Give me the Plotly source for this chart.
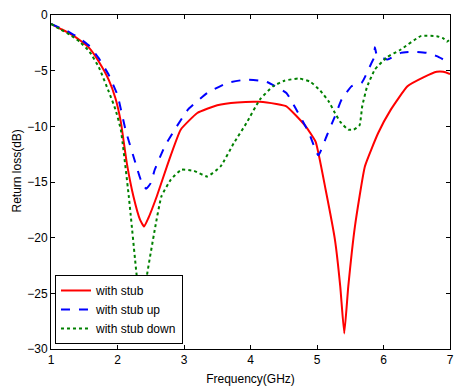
import plotly.graph_objects as go

freq_stub = [1.0, 1.13, 1.28, 1.43, 1.58, 1.72, 1.87, 1.97, 2.05, 2.14, 2.24, 2.34, 2.40, 2.46, 2.59,
             2.76, 2.95, 3.2, 3.5, 3.8, 4.14, 4.39, 4.54, 4.68, 4.83, 4.98, 5.13, 5.27, 5.35, 5.41,
             5.47, 5.57, 5.72, 5.92, 6.11, 6.36, 6.6, 6.8, 6.9, 7.0]
rl_stub = [-0.8, -1.2, -1.65, -2.25, -3.0, -4.2, -5.85, -7.5, -9.6, -13.3, -16.3, -18.4, -19.0, -18.3, -16.3,
           -13.3, -10.3, -8.8, -8.1, -7.85, -7.8, -8.0, -8.2, -9.0, -10.0, -11.4, -15.7, -20.2, -24.4, -28.6,
           -24.4, -19.0, -13.6, -10.6, -8.5, -6.4, -5.6, -5.1, -5.1, -5.3]

freq_up = [1.0, 1.13, 1.28, 1.43, 1.58, 1.72, 1.87, 2.0, 2.12, 2.27, 2.35, 2.43, 2.5, 2.56, 2.71,
           2.86, 3.06, 3.35, 3.65, 3.94, 4.24, 4.54, 4.68, 4.88, 5.02, 5.15, 5.27, 5.37, 5.52,
           5.67, 5.82, 5.86, 5.87, 5.9, 6.06, 6.26, 6.46, 6.65, 6.8, 7.0]
rl_up = [-0.8, -1.15, -1.55, -2.1, -2.8, -3.9, -5.4, -7.2, -10.3, -13.3, -14.8, -15.6, -15.1, -13.9, -11.8,
         -10.3, -8.5, -7.0, -6.1, -5.8, -6.0, -7.0, -8.4, -10.6, -12.6, -10.8, -9.1, -7.6, -6.4,
         -6.1, -4.3, -3.8, -2.9, -3.6, -4.0, -3.4, -3.3, -3.4, -3.7, -4.3]

freq_down = [1.0, 1.13, 1.28, 1.43, 1.58, 1.72, 1.87, 1.97, 2.05, 2.17, 2.29, 2.37, 2.44, 2.56, 2.66,
             2.8, 2.96, 3.15, 3.35, 3.55, 3.75, 3.94, 4.14, 4.34, 4.51, 4.73, 4.9, 5.05, 5.18, 5.27,
             5.35, 5.47, 5.55, 5.64, 5.68, 5.75, 5.87, 6.05, 6.26, 6.56, 6.8, 6.9, 6.95, 7.0]
rl_down = [-0.8, -1.25, -1.75, -2.4, -3.3, -4.7, -6.9, -8.5, -10.3, -16.3, -23.5, -27.5, -23.5, -19.3, -16.3,
           -14.8, -13.9, -14.0, -14.5, -13.6, -11.5, -9.7, -7.6, -6.4, -5.9, -5.7, -6.0, -6.8, -7.8, -8.8,
           -9.6, -10.3, -10.3, -9.9, -8.2, -6.5, -4.9, -3.8, -3.1, -1.9, -1.9, -2.1, -2.4, -2.2]

names = ["with stub", "with stub up", "with stub down"]

fig = go.Figure()
fig.add_trace(go.Scatter(x=freq_stub, y=rl_stub, mode="lines", name=names[0],
                         line=dict(color="#ff0000", width=2, shape="spline", smoothing=0.4)))
fig.add_trace(go.Scatter(x=freq_up, y=rl_up, mode="lines", name=names[1],
                         line=dict(color="#0000ff", width=2, dash="dash", shape="spline", smoothing=0.4)))
fig.add_trace(go.Scatter(x=freq_down, y=rl_down, mode="lines", name=names[2],
                         line=dict(color="#008000", width=2, dash="dot", shape="spline", smoothing=0.4)))

font = dict(family="Arial, Liberation Sans, sans-serif", size=12, color="#000000")
axis_common = dict(showgrid=False, zeroline=False, showline=True, linecolor="#000000", linewidth=1,
                   mirror="ticks", ticks="inside", ticklen=4, tickcolor="#000000",
                   tickfont=font, ticklabeloverflow="allow")

fig.update_layout(
    width=457, height=387,
    margin=dict(l=51, r=3, t=15, b=38),
    paper_bgcolor="#ffffff", plot_bgcolor="#ffffff",
    font=font,
    xaxis=dict(range=[1, 7], tickvals=[1, 2, 3, 4, 5, 6, 7],
               title=dict(text="Frequency(GHz)", font=font, standoff=8), **axis_common),
    yaxis=dict(range=[-30, 0], tickvals=[0, -5, -10, -15, -20, -25, -30], **axis_common),
    legend=dict(x=0.01, y=0.015, xanchor="left", yanchor="bottom",
                bgcolor="#ffffff", bordercolor="#000000", borderwidth=1,
                font=font, tracegroupgap=0, itemwidth=30),
    showlegend=True,
    annotations=[dict(text="Return loss(dB)", xref="paper", yref="paper", x=-0.0864, y=0.533,
                      textangle=-90, showarrow=False, font=font,
                      xanchor="center", yanchor="middle")],
)

fig.write_html("out.html")
